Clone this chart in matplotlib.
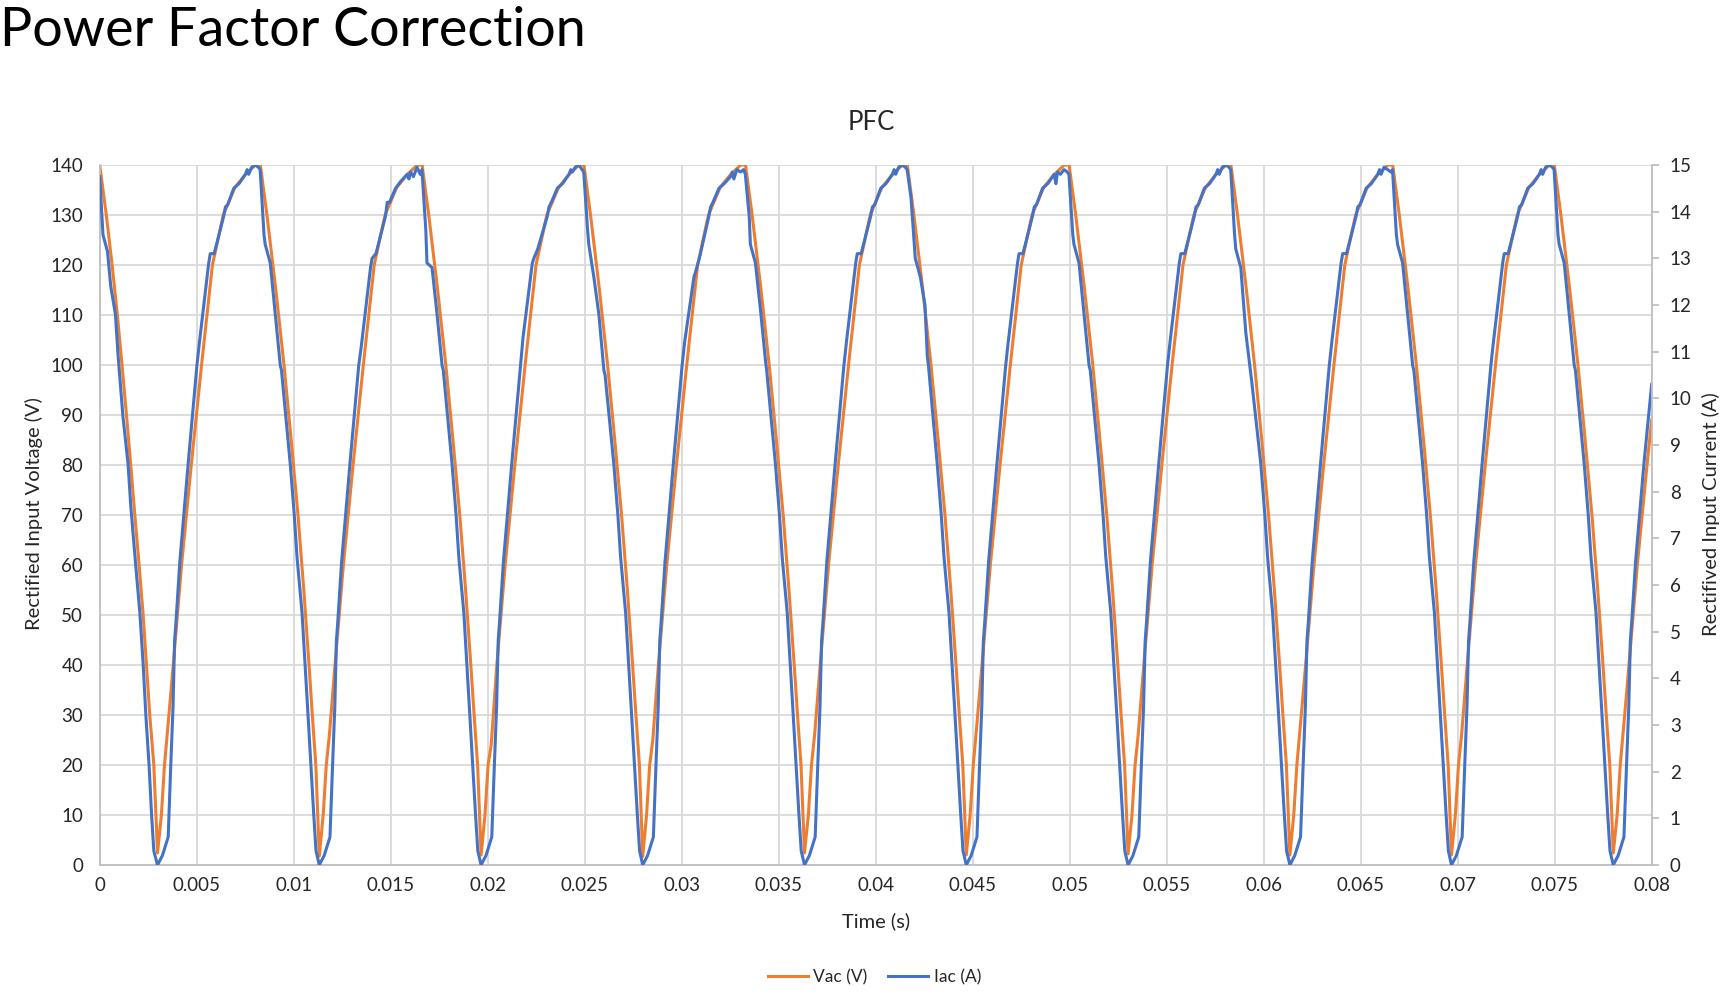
import numpy as np
import matplotlib
matplotlib.use('Agg')
import matplotlib.pyplot as plt

### data (time in ms)
vac_t_ms = [
    0.00, 0.34, 0.64, 0.91, 1.15, 1.38, 1.60, 1.81, 2.03, 2.24, 2.41, 2.58, 2.79,
    2.98, 3.18, 3.34, 3.50, 3.79, 4.22, 4.72, 5.25, 5.81, 6.37, 6.97, 7.49, 8.03, 8.28, 8.62, 9.08, 9.50, 9.87, 10.22, 10.52, 10.79, 10.96, 11.14,
    11.32, 11.52, 11.68, 11.84, 12.13, 12.56, 13.06, 13.59, 14.15, 14.71, 15.31, 15.83, 16.37, 16.62, 16.96, 17.42, 17.84, 18.21, 18.56, 18.86, 19.13, 19.30, 19.48,
    19.66, 19.86, 20.02, 20.18, 20.47, 20.90, 21.40, 21.93, 22.49, 23.05, 23.65, 24.17, 24.71, 24.96, 25.30, 25.76, 26.18, 26.55, 26.90, 27.20, 27.47, 27.64, 27.82,
    27.99, 28.19, 28.35, 28.51, 28.80, 29.23, 29.73, 30.26, 30.82, 31.38, 31.98, 32.50, 33.04, 33.29, 33.63, 34.09, 34.51, 34.88, 35.23, 35.53, 35.80, 35.97, 36.15,
    36.33, 36.53, 36.69, 36.85, 37.14, 37.57, 38.07, 38.60, 39.16, 39.72, 40.32, 40.84, 41.38, 41.63, 41.97, 42.43, 42.85, 43.22, 43.57, 43.87, 44.14, 44.31, 44.49,
    44.67, 44.87, 45.03, 45.19, 45.48, 45.91, 46.41, 46.94, 47.50, 48.06, 48.66, 49.18, 49.72, 49.97, 50.31, 50.77, 51.19, 51.56, 51.91, 52.21, 52.48, 52.65, 52.83,
    53.01, 53.21, 53.37, 53.53, 53.82, 54.25, 54.75, 55.28, 55.84, 56.40, 57.00, 57.52, 58.06, 58.31, 58.65, 59.11, 59.53, 59.90, 60.25, 60.55, 60.82, 60.99, 61.17,
    61.35, 61.55, 61.71, 61.87, 62.16, 62.59, 63.09, 63.62, 64.18, 64.74, 65.34, 65.86, 66.40, 66.65, 66.99, 67.45, 67.87, 68.24, 68.59, 68.89, 69.16, 69.33, 69.51,
    69.68, 69.88, 70.04, 70.20, 70.49, 70.92, 71.42, 71.95, 72.51, 73.07, 73.67, 74.19, 74.73, 74.98, 75.32, 75.78, 76.20, 76.57, 76.92, 77.22, 77.49, 77.66, 77.84,
    78.02, 78.22, 78.38, 78.54, 78.83, 79.26, 79.76, 80.00,
]
vac_v = [
    140, 130, 120, 110, 100, 90, 80, 70, 60, 50, 40, 30, 20,
    2.4, 10, 20, 27, 40, 60, 80, 100, 120, 130, 135.5, 138, 140, 140, 130, 115, 100, 85, 70, 55, 40, 30, 20,
    1.8, 10, 20, 26, 40, 60, 80, 100, 120, 130, 135.5, 138, 140, 140, 130, 115, 100, 85, 70, 55, 40, 30, 20,
    2.0, 10, 20, 24, 40, 60, 80, 100, 120, 130, 135.5, 138, 140, 140, 130, 115, 100, 85, 70, 55, 40, 30, 20,
    1.7, 10, 20, 25, 40, 60, 80, 100, 120, 130, 135.5, 138, 140, 140, 130, 115, 100, 85, 70, 55, 40, 30, 20,
    2.4, 10, 20, 26, 40, 60, 80, 100, 120, 130, 135.5, 138, 140, 140, 130, 115, 100, 85, 70, 55, 40, 30, 20,
    2.0, 10, 20, 27, 40, 60, 80, 100, 120, 130, 135.5, 138, 140, 140, 130, 115, 100, 85, 70, 55, 40, 30, 20,
    2.2, 10, 20, 26, 40, 60, 80, 100, 120, 130, 135.5, 138, 140, 140, 130, 115, 100, 85, 70, 55, 40, 30, 20,
    2.0, 10, 20, 27, 40, 60, 80, 100, 120, 130, 135.5, 138, 140, 140, 130, 115, 100, 85, 70, 55, 40, 30, 20,
    2.0, 10, 20, 26, 40, 60, 80, 100, 120, 130, 135.5, 138, 140, 140, 130, 115, 100, 85, 70, 55, 40, 30, 20,
    2.4, 10, 20, 27, 40, 60, 80, 89,
]

iac_t_ms = [
    0.00, 0.17, 0.40, 0.57, 0.81, 0.95, 1.20, 1.46, 1.60, 1.84, 2.07, 2.24, 2.38, 2.55, 2.67, 2.79,
    2.98, 3.23, 3.53, 3.66, 3.78, 3.86, 3.93, 4.13, 4.56, 5.01, 5.14, 5.62, 5.70, 5.90, 6.39, 6.48, 6.60, 6.91, 7.18, 7.51, 7.60, 7.68, 7.83, 8.02, 8.18,
    8.27, 8.47, 8.53, 8.79, 9.05, 9.31, 9.37, 9.82, 10.03, 10.17, 10.43, 10.74, 11.03, 11.15,
    11.32, 11.57, 11.87, 12.00, 12.12, 12.20, 12.27, 12.47, 12.90, 13.35, 13.48, 13.96, 14.04, 14.24, 14.73, 14.82, 14.94, 15.25, 15.52, 15.85, 15.94, 16.02, 16.17, 16.36, 16.52,
    16.61, 16.81, 16.87, 17.13, 17.39, 17.65, 17.71, 18.16, 18.37, 18.51, 18.77, 19.08, 19.37, 19.49,
    19.66, 19.91, 20.21, 20.34, 20.46, 20.54, 20.61, 20.81, 21.24, 21.69, 21.82, 22.30, 22.38, 22.58, 23.07, 23.16, 23.28, 23.59, 23.86, 24.19, 24.28, 24.36, 24.51, 24.70, 24.86,
    24.95, 25.15, 25.21, 25.47, 25.73, 25.99, 26.05, 26.50, 26.71, 26.85, 27.11, 27.42, 27.71, 27.83,
    27.99, 28.24, 28.54, 28.67, 28.79, 28.87, 28.94, 29.14, 29.57, 30.02, 30.15, 30.63, 30.71, 30.91, 31.40, 31.49, 31.61, 31.92, 32.19, 32.52, 32.61, 32.69, 32.84, 33.03, 33.19,
    33.28, 33.48, 33.54, 33.80, 34.06, 34.32, 34.38, 34.83, 35.04, 35.18, 35.44, 35.75, 36.04, 36.16,
    36.33, 36.58, 36.88, 37.01, 37.13, 37.21, 37.28, 37.48, 37.91, 38.36, 38.49, 38.97, 39.05, 39.25, 39.74, 39.83, 39.95, 40.26, 40.53, 40.86, 40.95, 41.03, 41.18, 41.37, 41.53,
    41.62, 41.82, 42.04, 42.30, 42.54, 42.66, 42.72, 43.17, 43.38, 43.52, 43.78, 44.09, 44.38, 44.50,
    44.67, 44.92, 45.22, 45.35, 45.47, 45.55, 45.62, 45.82, 46.25, 46.70, 46.83, 47.31, 47.39, 47.59, 48.08, 48.17, 48.29, 48.60, 48.87, 49.20, 49.29, 49.37, 49.52, 49.71, 49.87,
    49.96, 50.16, 50.22, 50.48, 50.74, 51.00, 51.06, 51.51, 51.72, 51.86, 52.12, 52.43, 52.72, 52.84,
    53.01, 53.26, 53.56, 53.69, 53.81, 53.89, 53.96, 54.16, 54.59, 55.04, 55.17, 55.65, 55.73, 55.93, 56.42, 56.51, 56.63, 56.94, 57.21, 57.54, 57.63, 57.71, 57.86, 58.05, 58.21,
    58.30, 58.50, 58.56, 58.82, 59.08, 59.34, 59.40, 59.85, 60.06, 60.20, 60.46, 60.77, 61.06, 61.18,
    61.35, 61.60, 61.90, 62.03, 62.15, 62.23, 62.30, 62.50, 62.93, 63.38, 63.51, 63.99, 64.07, 64.27, 64.76, 64.85, 64.97, 65.28, 65.55, 65.88, 65.97, 66.05, 66.20, 66.39, 66.55,
    66.64, 66.84, 66.90, 67.16, 67.42, 67.68, 67.74, 68.19, 68.40, 68.54, 68.80, 69.11, 69.40, 69.52,
    69.68, 69.93, 70.23, 70.36, 70.48, 70.56, 70.63, 70.83, 71.26, 71.71, 71.84, 72.32, 72.40, 72.60, 73.09, 73.18, 73.30, 73.61, 73.88, 74.21, 74.30, 74.38, 74.53, 74.72, 74.88,
    74.97, 75.17, 75.23, 75.49, 75.75, 76.01, 76.07, 76.52, 76.73, 76.87, 77.13, 77.44, 77.73, 77.85,
    78.02, 78.27, 78.57, 78.70, 78.82, 78.90, 78.97, 79.17, 79.60, 80.00,
]
iac_a = [
    14.75, 13.5, 13.15, 12.4, 11.8, 10.9, 9.6, 8.6, 7.7, 6.5, 5.4, 4.3, 3.2, 2.1, 1.1, 0.3,
    0.0, 0.2, 0.6, 2.1, 3.4, 4.8, 5.2, 6.5, 8.6, 10.7, 11.2, 12.9, 13.1, 13.1, 13.9, 14.1, 14.15, 14.5, 14.6, 14.8, 14.9, 14.8, 14.95, 15.0, 14.95,
    14.9, 13.5, 13.3, 12.9, 11.8, 10.7, 10.6, 8.6, 7.5, 6.6, 5.4, 3.2, 1.1, 0.3,
    0.0, 0.2, 0.6, 2.1, 3.4, 4.8, 5.2, 6.5, 8.6, 10.7, 11.1, 12.8, 13.0, 13.1, 13.9, 14.2, 14.2, 14.5, 14.65, 14.8, 14.7, 14.85, 14.75, 14.95, 14.8,
    14.9, 13.6, 12.9, 12.8, 11.8, 10.7, 10.6, 8.6, 7.5, 6.6, 5.4, 3.2, 1.1, 0.3,
    0.0, 0.2, 0.6, 2.1, 3.4, 4.8, 5.2, 6.5, 8.6, 10.7, 11.3, 12.9, 13.0, 13.2, 13.9, 14.1, 14.2, 14.5, 14.6, 14.8, 14.9, 14.85, 14.95, 15.0, 14.9,
    14.85, 13.6, 13.3, 12.6, 11.8, 10.6, 10.5, 8.6, 7.5, 6.6, 5.4, 3.2, 1.1, 0.3,
    0.0, 0.2, 0.6, 2.1, 3.4, 4.8, 5.2, 6.5, 8.6, 10.7, 11.2, 12.6, 12.7, 13.0, 13.9, 14.1, 14.2, 14.5, 14.6, 14.75, 14.85, 14.7, 14.9, 14.85, 14.9,
    14.8, 13.9, 13.3, 12.9, 11.9, 10.8, 10.6, 8.6, 7.5, 6.6, 5.4, 3.2, 1.1, 0.3,
    0.0, 0.2, 0.6, 2.1, 3.4, 4.8, 5.2, 6.5, 8.6, 10.7, 11.2, 12.9, 13.1, 13.1, 13.9, 14.1, 14.15, 14.5, 14.6, 14.8, 14.9, 14.8, 14.95, 15.0, 14.95,
    14.9, 14.3, 13.0, 12.6, 12.0, 10.9, 10.7, 8.6, 7.5, 6.6, 5.4, 3.2, 1.1, 0.3,
    0.0, 0.2, 0.6, 2.1, 3.4, 4.8, 5.2, 6.5, 8.6, 10.7, 11.2, 12.9, 13.1, 13.1, 13.9, 14.1, 14.15, 14.5, 14.6, 14.8, 14.6, 14.85, 14.8, 14.9, 14.85,
    14.8, 13.5, 13.3, 12.9, 11.8, 10.7, 10.6, 8.6, 7.5, 6.6, 5.4, 3.2, 1.1, 0.3,
    0.0, 0.2, 0.6, 2.1, 3.4, 4.8, 5.2, 6.5, 8.6, 10.7, 11.2, 12.9, 13.1, 13.1, 13.9, 14.1, 14.15, 14.5, 14.6, 14.8, 14.9, 14.8, 14.95, 15.0, 14.95,
    14.9, 13.5, 13.2, 12.8, 11.4, 10.5, 10.3, 8.6, 7.5, 6.6, 5.4, 3.2, 1.1, 0.3,
    0.0, 0.2, 0.6, 2.1, 3.4, 4.8, 5.2, 6.5, 8.6, 10.7, 11.2, 12.9, 13.1, 13.1, 13.9, 14.1, 14.15, 14.5, 14.6, 14.8, 14.9, 14.8, 14.95, 14.9, 14.85,
    14.9, 13.5, 13.3, 12.9, 11.8, 10.7, 10.6, 8.6, 7.5, 6.6, 5.4, 3.2, 1.1, 0.3,
    0.0, 0.2, 0.6, 2.1, 3.4, 4.8, 5.2, 6.5, 8.6, 10.7, 11.2, 12.9, 13.1, 13.1, 13.9, 14.1, 14.15, 14.5, 14.6, 14.8, 14.9, 14.8, 14.95, 15.0, 14.95,
    14.9, 13.5, 13.3, 12.9, 11.8, 10.7, 10.6, 8.6, 7.5, 6.6, 5.4, 3.2, 1.1, 0.3,
    0.0, 0.2, 0.6, 2.1, 3.4, 4.8, 5.2, 6.5, 8.6, 10.3,
]

x_ticks = [0, 0.005, 0.01, 0.015, 0.02, 0.025, 0.03, 0.035, 0.04,
           0.045, 0.05, 0.055, 0.06, 0.065, 0.07, 0.075, 0.08]
x_ticklabels = ['0', '0.005', '0.01', '0.015', '0.02', '0.025', '0.03', '0.035', '0.04',
                '0.045', '0.05', '0.055', '0.06', '0.065', '0.07', '0.075', '0.08']
v_ticks = [0, 10, 20, 30, 40, 50, 60, 70, 80, 90, 100, 110, 120, 130, 140]
a_ticks = [0, 1, 2, 3, 4, 5, 6, 7, 8, 9, 10, 11, 12, 13, 14, 15]

### style
plt.rcParams['font.family'] = ['Lato', 'DejaVu Sans']
orange = '#ED7D31'
blue = '#4472C4'
grid_col = '#D9D9D9'
axis_col = '#BFBFBF'
text_col = '#262626'

### figure
fig = plt.figure(figsize=(17.25, 9.98), dpi=100)
ax = fig.add_axes([0.0578, 0.1333, 0.8997, 0.7014])
ax2 = ax.twinx()

vac_t = np.array(vac_t_ms) / 1000.
iac_t = np.array(iac_t_ms) / 1000.
l1, = ax.plot(vac_t, vac_v, color=orange, lw=2.2, solid_joinstyle='round', label='Vac (V)')
l2, = ax2.plot(iac_t, iac_a, color=blue, lw=2.2, solid_joinstyle='round', label='Iac (A)')

ax.set_xlim(0, 0.08)
ax.set_ylim(0, 140)
ax2.set_ylim(0, 15)
ax.set_xticks(x_ticks)
ax.set_xticklabels(x_ticklabels)
ax.set_yticks(v_ticks)
ax2.set_yticks(a_ticks)

ax.grid(True, color=grid_col, lw=1.3)
ax.set_axisbelow(True)
for a in (ax, ax2):
    a.spines['top'].set_visible(False)
    for s in ('left', 'right', 'bottom'):
        a.spines[s].set_color(axis_col)
        a.spines[s].set_linewidth(1.3)
ax.spines['right'].set_visible(False)
ax2.spines['left'].set_visible(False)
ax2.spines['bottom'].set_visible(False)

ax.tick_params(axis='y', length=0, labelsize=13.5, labelcolor=text_col, pad=12)
ax.tick_params(axis='x', length=0, labelsize=13.5, labelcolor=text_col, pad=9)
ax2.tick_params(axis='y', length=5, color=axis_col, width=1.3, labelsize=13.5,
                labelcolor=text_col, pad=8)

### axis titles
fig.text(0.5078, 0.077, 'Time (s)', fontsize=14.5, color=text_col, ha='center', va='center')
fig.text(0.0197, 0.485, 'Rectified Input Voltage (V)', fontsize=14.5, color=text_col,
         ha='center', va='center', rotation=90)
fig.text(0.9919, 0.485, 'Rectifived Input Current (A)', fontsize=14.5, color=text_col,
         ha='center', va='center', rotation=90)

### titles
fig.text(0.0, 0.954, 'Power Factor Correction', fontsize=38.8, fontweight='normal',
         color='black', ha='left', va='baseline')
fig.text(0.505, 0.877, 'PFC', fontsize=18.5, color=text_col, ha='center', va='center')

### legend
fig.legend(handles=[l1, l2], loc='center', bbox_to_anchor=(0.507, 0.021), ncol=2,
           frameon=False, fontsize=12.5, handlelength=2.3, columnspacing=1.2,
           handletextpad=0.3, labelcolor=text_col)

fig.savefig('out.png', dpi=100)
